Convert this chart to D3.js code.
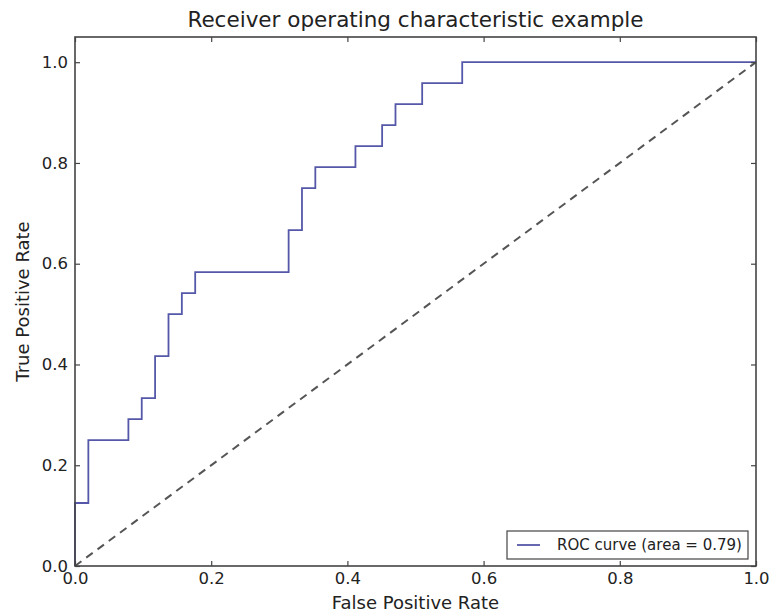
<!DOCTYPE html>
<html>
<head>
<meta charset="utf-8">
<script src="https://cdn.jsdelivr.net/npm/d3@7"></script>
<style>
  body { margin: 0; background: #fff; }
  svg text { font-family: "DejaVu Sans", sans-serif; fill: #222; }
</style>
</head>
<body>
<svg id="chart" width="772" height="614"></svg>
<script>
// ROC curve points (fpr steps of 1/51, tpr steps of 1/24)
var fpr = [0, 0, 0.0196, 0.0196, 0.0784, 0.0784, 0.098, 0.098, 0.1176, 0.1176, 0.1373, 0.1373,
  0.1569, 0.1569, 0.1765, 0.1765, 0.3137, 0.3137, 0.3333, 0.3333, 0.3529, 0.3529,
  0.4118, 0.4118, 0.451, 0.451, 0.4706, 0.4706, 0.5098, 0.5098, 0.5686, 0.5686, 1.0]
var tpr = [0, 0.125, 0.125, 0.25, 0.25, 0.2917, 0.2917, 0.3333, 0.3333, 0.4167, 0.4167, 0.5,
  0.5, 0.5417, 0.5417, 0.5833, 0.5833, 0.6667, 0.6667, 0.75, 0.75, 0.7917,
  0.7917, 0.8333, 0.8333, 0.875, 0.875, 0.9167, 0.9167, 0.9583, 0.9583, 1.0, 1.0]
var chanceX = [0, 1]
var chanceY = [0, 1]
var xTicks = [0, 0.2, 0.4, 0.6, 0.8, 1.0]
var yTicks = [0, 0.2, 0.4, 0.6, 0.8, 1.0]
var legendLabel = "ROC curve (area = 0.79)"

var svg = d3.select("#chart")
var margin = {top: 37, right: 16, bottom: 48, left: 75},
  width = 772 - margin.left - margin.right,
  height = 614 - margin.top - margin.bottom

var x = d3.scaleLinear().domain([0, 1]).range([0, width])
var y = d3.scaleLinear().domain([0, 1.05]).range([height, 0])

var g = svg.append("g")
  .attr("transform", "translate(" + margin.left + "," + margin.top + ")")

// dashed chance line
var line = d3.line().x(d => x(d[0])).y(d => y(d[1]))
g.append("path")
  .datum(d3.zip(chanceX, chanceY))
  .attr("d", line)
  .attr("fill", "none")
  .attr("stroke", "#555")
  .attr("stroke-width", 2)
  .attr("stroke-dasharray", "8,6")

// ROC curve
g.append("path")
  .datum(d3.zip(fpr, tpr))
  .attr("d", line)
  .attr("fill", "none")
  .attr("stroke", "#5558a8")
  .attr("stroke-width", 1.8)

// axes with inward ticks (matplotlib classic)
function styleAxis(sel) {
  sel.select(".domain").remove()
  sel.selectAll("line").attr("stroke", "#444").attr("stroke-width", 1.2)
  sel.selectAll("text").style("font-size", "16.5px").attr("fill", "#333")
}
var fmt = d3.format(".1f")
g.append("g").attr("transform", "translate(0," + height + ")")
  .call(d3.axisBottom(x).tickValues(xTicks).tickFormat(fmt).tickSizeInner(-5).tickPadding(6))
  .call(styleAxis)
g.append("g").call(d3.axisTop(x).tickValues(xTicks).tickFormat("").tickSizeInner(-5))
  .call(styleAxis)
g.append("g")
  .call(d3.axisLeft(y).tickValues(yTicks).tickFormat(fmt).tickSizeInner(-5).tickPadding(7))
  .call(styleAxis)
g.append("g").attr("transform", "translate(" + width + ",0)")
  .call(d3.axisRight(y).tickValues(yTicks).tickFormat("").tickSizeInner(-5))
  .call(styleAxis)

// frame
g.append("rect")
  .attr("width", width).attr("height", height)
  .attr("fill", "none").attr("stroke", "#444").attr("stroke-width", 1.6)

// title and axis labels
svg.append("text")
  .attr("x", margin.left + width / 2).attr("y", 27)
  .attr("text-anchor", "middle").style("font-size", "21.5px")
  .text("Receiver operating characteristic example")
svg.append("text")
  .attr("x", margin.left + width / 2).attr("y", 609)
  .attr("text-anchor", "middle").style("font-size", "18px")
  .text("False Positive Rate")
svg.append("text")
  .attr("transform", "translate(29," + (margin.top + height / 2) + ") rotate(-90)")
  .attr("text-anchor", "middle").style("font-size", "18px")
  .text("True Positive Rate")

// legend
var lg = g.append("g").attr("transform", "translate(" + (width - 249) + "," + (height - 35) + ")")
lg.append("rect").attr("width", 241).attr("height", 28)
  .attr("fill", "#fff").attr("stroke", "#444").attr("stroke-width", 1.2)
lg.append("line").attr("x1", 10).attr("x2", 33).attr("y1", 14).attr("y2", 14)
  .attr("stroke", "#5558a8").attr("stroke-width", 1.8)
lg.append("text").attr("x", 50).attr("y", 19).style("font-size", "15px")
  .text(legendLabel)
</script>
</body>
</html>
